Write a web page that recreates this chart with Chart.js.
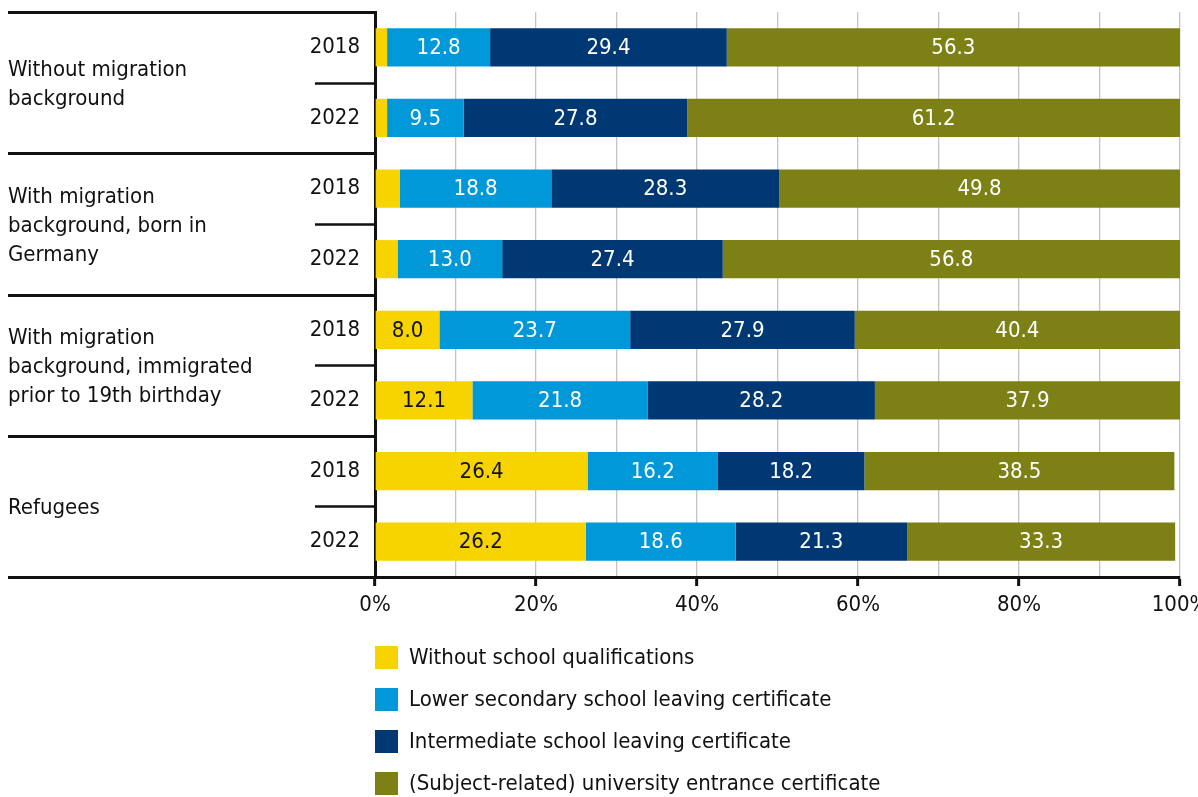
<!DOCTYPE html>
<html>
<head>
<meta charset="utf-8">
<title>School qualifications by migration background</title>
<script src="https://cdn.jsdelivr.net/npm/chart.js@4/dist/chart.umd.min.js"></script>
<style>
  html, body { margin: 0; padding: 0; background: #fff; }
  #chart { display: block; }
</style>
</head>
<body>
<canvas id="chart" width="1198" height="797"></canvas>
<script>
// data
const years = ['2018', '2022', '2018', '2022', '2018', '2022', '2018', '2022']
const groups = [
  ['Without migration', 'background'],
  ['With migration', 'background, born in', 'Germany'],
  ['With migration', 'background, immigrated', 'prior to 19th birthday'],
  ['Refugees']
]
const seriesNames = [
  'Without school qualifications',
  'Lower secondary school leaving certificate',
  'Intermediate school leaving certificate',
  '(Subject-related) university entrance certificate'
]
const noQualification = [1.5, 1.5, 3.1, 2.8, 8.0, 12.1, 26.4, 26.2]
const lowerSecondary = [12.8, 9.5, 18.8, 13.0, 23.7, 21.8, 16.2, 18.6]
const intermediate = [29.4, 27.8, 28.3, 27.4, 27.9, 28.2, 18.2, 21.3]
const university = [56.3, 61.2, 49.8, 56.8, 40.4, 37.9, 38.5, 33.3]

const colors = ['#f7d300', '#0098d8', '#003873', '#7d8015']
const labelColors = ['#111111', '#ffffff', '#ffffff', '#ffffff']
const fontFamily = '"Liberation Sans Narrow", "DejaVu Sans Condensed", "Open Sans", sans-serif'
const fontSize = 22

// value labels inside the bar segments (small unlabeled slivers skipped)
const valueLabels = {
  id: 'valueLabels',
  afterDatasetsDraw(chart) {
    const ctx = chart.ctx
    ctx.save()
    ctx.font = `${fontSize}px ${fontFamily}`
    ctx.textAlign = 'center'
    ctx.textBaseline = 'middle'
    chart.data.datasets.forEach((ds, i) => {
      const meta = chart.getDatasetMeta(i)
      meta.data.forEach((bar, j) => {
        const value = ds.data[j]
        if (value < 5) return
        ctx.fillStyle = labelColors[i]
        ctx.fillText(value.toFixed(1), (bar.x + bar.base) / 2, bar.y + 1)
      })
    })
    ctx.restore()
  }
}

// group names and separator lines on the left
const groupFrame = {
  id: 'groupFrame',
  afterDraw(chart) {
    const ctx = chart.ctx
    const y = chart.scales.y
    const area = chart.chartArea
    const rowEdge = k => {
      if (k === 0) return area.top
      if (k === years.length) return area.bottom
      return (y.getPixelForValue(k - 1) + y.getPixelForValue(k)) / 2
    }
    ctx.save()
    ctx.strokeStyle = '#111'
    ctx.lineCap = 'butt'
    for (let k = 0; k <= years.length; k++) {
      const py = Math.round(rowEdge(k)) + 0.5
      ctx.lineWidth = k % 2 === 0 ? 3 : 2.5
      ctx.beginPath()
      ctx.moveTo(k % 2 === 0 ? 8 : 315, py)
      ctx.lineTo(area.left + 1, py)
      ctx.stroke()
    }

    ctx.font = `${fontSize}px ${fontFamily}`
    ctx.fillStyle = '#111'
    ctx.textAlign = 'left'
    ctx.textBaseline = 'middle'
    const lineHeight = 29
    groups.forEach((lines, g) => {
      const mid = (rowEdge(g * 2) + rowEdge(g * 2 + 2)) / 2 + 2
      const start = mid - (lines.length - 1) * lineHeight / 2
      lines.forEach((line, n) => ctx.fillText(line, 8, start + n * lineHeight))
    })
    ctx.restore()
  }
}

// vertical legend under the x axis
const stackedLegend = {
  id: 'stackedLegend',
  afterDraw(chart) {
    const ctx = chart.ctx
    const left = chart.chartArea.left
    const top = chart.chartArea.bottom + 80
    ctx.save()
    ctx.font = `${fontSize}px ${fontFamily}`
    ctx.textAlign = 'left'
    ctx.textBaseline = 'middle'
    chart.data.datasets.forEach((ds, i) => {
      const cy = top + i * 42
      ctx.fillStyle = ds.backgroundColor
      ctx.fillRect(left, cy - 11, 23, 23)
      ctx.fillStyle = '#111'
      ctx.fillText(ds.label, left + 34, cy + 1)
    })
    ctx.restore()
  }
}

const seriesData = [noQualification, lowerSecondary, intermediate, university]

new Chart(document.getElementById('chart'), {
  type: 'bar',
  data: {
    labels: years,
    datasets: seriesData.map((data, i) => ({
      label: seriesNames[i],
      data,
      backgroundColor: colors[i],
      borderWidth: 0,
      barPercentage: 0.54,
      categoryPercentage: 1
    }))
  },
  options: {
    indexAxis: 'y',
    responsive: false,
    animation: false,
    layout: { padding: { left: 0, right: 18, top: 12, bottom: 175 } },
    scales: {
      x: {
        stacked: true,
        min: 0,
        max: 100,
        afterFit(scale) {
          scale.height = 45
          scale.paddingLeft = 0
          scale.paddingRight = 0
        },
        ticks: {
          stepSize: 10,
          autoSkip: false,
          maxRotation: 0,
          padding: 6,
          color: '#111',
          font: { family: fontFamily, size: fontSize },
          callback: v => (v % 20 === 0 ? v + '%' : '')
        },
        grid: {
          color: c => (c.tick && c.tick.value === 0 ? 'rgba(0,0,0,0)' : '#c4c4c4'),
          lineWidth: 1.3,
          tickLength: 9,
          tickWidth: 3,
          tickColor: c => (c.tick && c.tick.value % 20 === 0 ? '#111' : 'rgba(0,0,0,0)')
        },
        border: { display: true, color: '#111', width: 3 }
      },
      y: {
        stacked: true,
        afterFit(scale) {
          scale.width = 375
          scale.paddingTop = 0
          scale.paddingBottom = 0
        },
        ticks: {
          padding: 15,
          color: '#111',
          font: { family: fontFamily, size: fontSize }
        },
        grid: { color: 'rgba(0,0,0,0)', drawTicks: false },
        border: { display: true, color: '#111', width: 3 }
      }
    },
    plugins: {
      legend: { display: false },
      tooltip: { enabled: false }
    }
  },
  plugins: [valueLabels, groupFrame, stackedLegend]
})
</script>
</body>
</html>
